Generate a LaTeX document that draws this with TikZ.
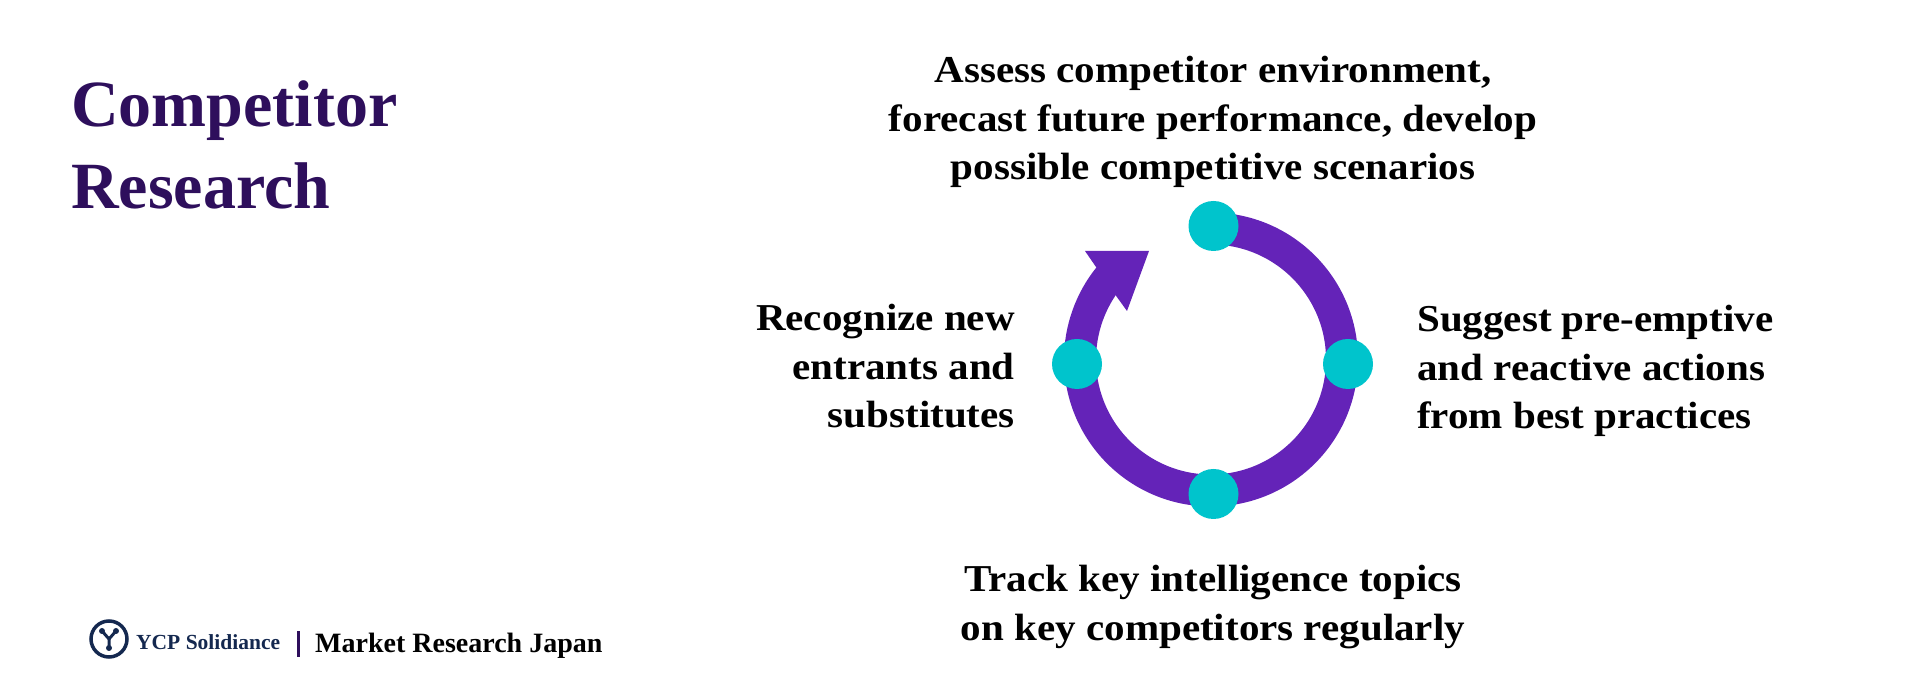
\documentclass[tikz,border=0pt]{standalone}
\usepackage{fontspec}
\setmainfont{Liberation Serif}
\newfontfamily\labelfont[FakeStretch=1.08]{Liberation Serif}
\definecolor{ringpurple}{HTML}{6423B8}
\definecolor{dotcyan}{HTML}{00C4CC}
\definecolor{titlepurple}{HTML}{2E0F5C}
\definecolor{logonavy}{HTML}{14284F}
\tikzset{
  dot/.style={circle, fill=dotcyan, minimum size=50pt, inner sep=0pt},
  steplabel/.style={font=\labelfont\fontsize{38}{48.5}\selectfont\bfseries, inner sep=0pt, text=black},
  titleline/.style={font=\fontsize{66}{83}\selectfont\bfseries, inner sep=0pt, text=titlepurple, anchor=base west},
}
\begin{document}
\begin{tikzpicture}[x=1pt, y=1pt]
    \useasboundingbox (0, 0) rectangle (1920, 700);

    % Ring
    \coordinate (ringcentre) at (1211, 340.5);
    \draw[ringpurple, line width=32pt] (ringcentre) ++(90:131) arc (90:-219:131);
    % Arrow head
    \fill[ringpurple] (1096, 433) -- (1085, 449) -- (1149, 449) -- (1127, 389)
        -- (1114, 407) -- cycle;

    % Steps
    \node[dot] (top) at (1213.5, 474) {};
    \node[dot] (right) at (1348, 336) {};
    \node[dot] (bottom) at (1213.5, 206) {};
    \node[dot] (left) at (1077, 336) {};

    % Labels
    \node[steplabel, align=center] (toplabel) at (1213, 578) {Assess competitor environment,\\forecast future performance, develop\\possible competitive scenarios};
    \node[steplabel, align=left, anchor=west] (rightlabel) at (1417, 329) {Suggest pre-emptive\\and reactive actions\\from best practices};
    \node[steplabel, align=center] (bottomlabel) at (1213, 93) {Track key intelligence topics\\on key competitors regularly};
    \node[steplabel, align=right, anchor=east] (leftlabel) at (1015, 333.5) {Recognize new\\entrants and\\substitutes};

    % Title
    \node[titleline] (titleone) at (71, 573) {Competitor};
    \node[titleline] (titletwo) at (71, 491) {Research};

    % Logo
    \node[circle, draw=logonavy, line width=3.5pt, minimum size=36pt, inner sep=0pt] (logo) at (109, 61) {};
    \draw[logonavy, line width=3pt] (logo.center) ++(0, -11) -- ++(0, 11) -- ++(-7, 8);
    \draw[logonavy, line width=3pt] (logo.center) -- ++(7, 8);
    \fill[logonavy] (logo.center) ++(-7, 8) circle (3pt);
    \fill[logonavy] (logo.center) ++(7, 8) circle (3pt);
    \fill[logonavy] (logo.center) ++(0, -9) circle (3pt);
    \node[font=\bfseries\fontsize{21.5}{21.5}\selectfont, text=logonavy, anchor=base west, inner sep=0pt] (brand) at (136, 50) {YCP Solidiance};
    \node[fill=titlepurple, minimum width=2.5pt, minimum height=26pt, inner sep=0pt] (bar) at (298.5, 56) {};
    \node[font=\bfseries\fontsize{28}{28}\selectfont, text=black, anchor=base west, inner sep=0pt] (market) at (315, 47) {Market Research Japan};
\end{tikzpicture}
\end{document}
